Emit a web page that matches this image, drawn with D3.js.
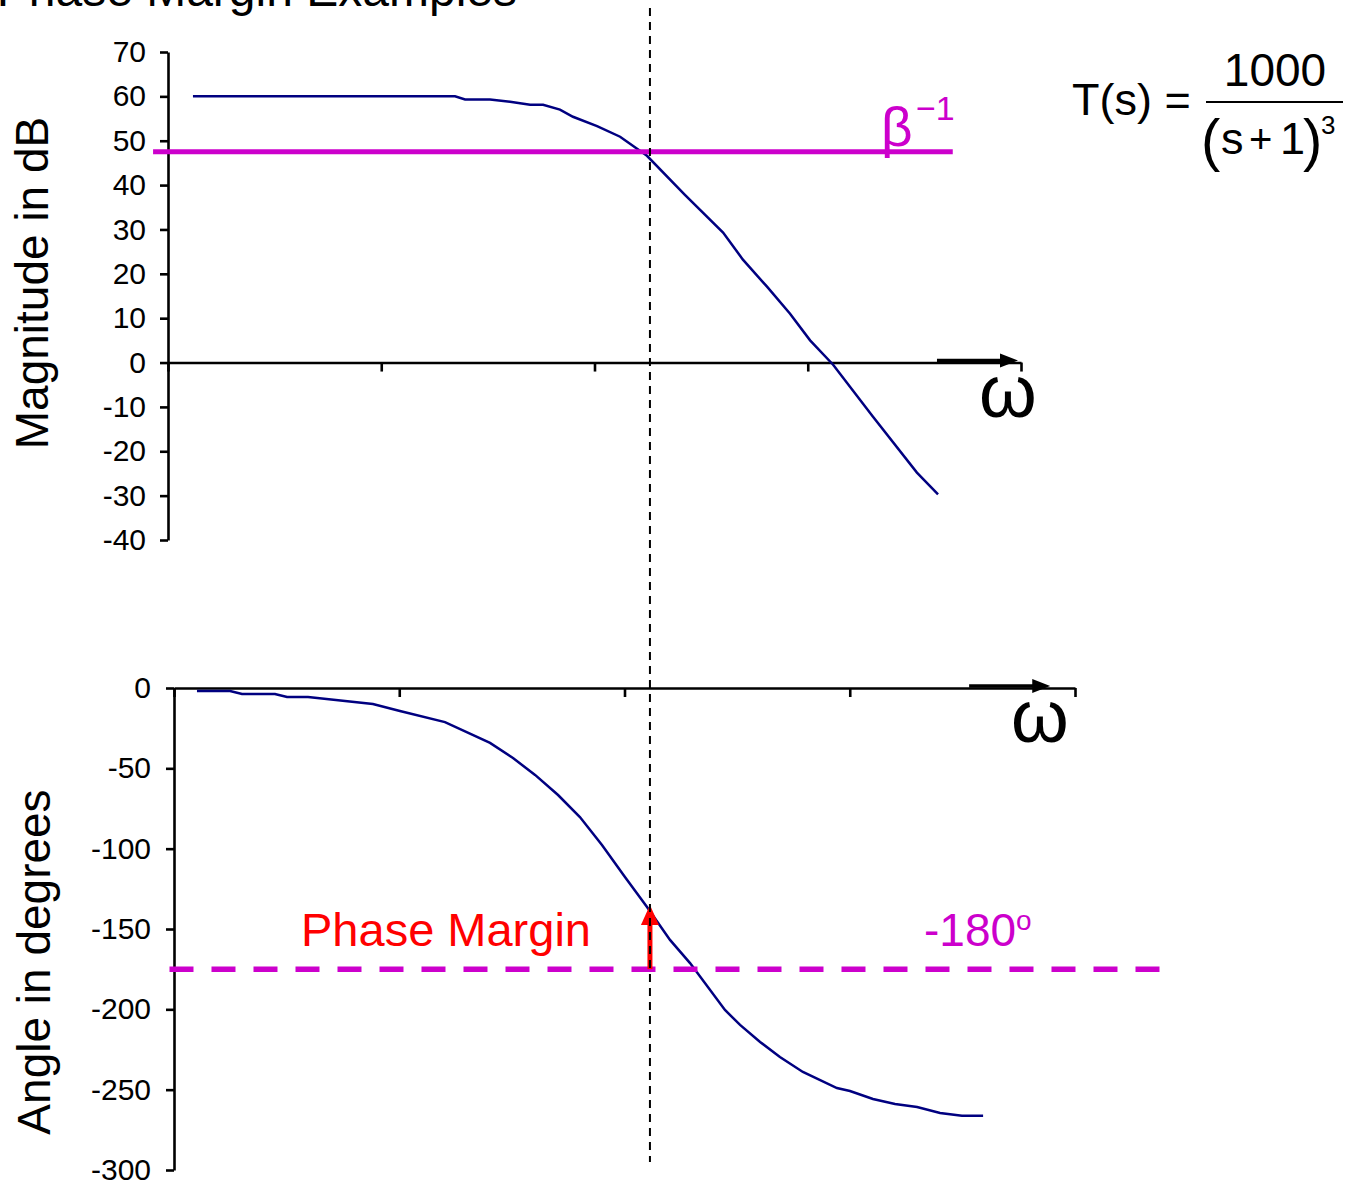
<!DOCTYPE html>
<html>
<head>
<meta charset="utf-8">
<script src="https://cdn.jsdelivr.net/npm/d3@7"></script>
<style>
  body { margin: 0; background: #fff; }
  svg { font-family: "Liberation Sans", Arial, sans-serif; }
</style>
</head>
<body>
<div id="chart"></div>
<script>
// x values are positions along the frequency axis, in tick units (0..4)
const xTicks = [0, 1, 2, 3, 4];

// magnitude plot
const magX  = [0.117, 1.346, 1.393, 1.510, 1.604, 1.698, 1.759, 1.838, 1.899, 2.012, 2.120, 2.246,
               2.424, 2.603, 2.696, 2.809, 2.917, 3.011, 3.119, 3.306, 3.512, 3.611];
const magDb = [60, 60, 59.3, 59.3, 58.8, 58.1, 58.1, 57.0, 55.4, 53.3, 50.9, 46.6,
               37.8, 29.3, 23.2, 17.1, 11.0, 5.0, -0.5, -12.2, -24.8, -29.7];
const magTicks = [70, 60, 50, 40, 30, 20, 10, 0, -10, -20, -30, -40];

// phase plot
const phX   = [0.102, 0.249, 0.302, 0.448, 0.502, 0.595, 0.883, 1.003, 1.203, 1.403, 1.505, 1.603,
               1.705, 1.802, 1.900, 2.002, 2.100, 2.202, 2.291, 2.446, 2.513, 2.602, 2.690, 2.792,
               2.943, 3.001, 3.103, 3.201, 3.299, 3.401, 3.498, 3.592];
const phDeg = [-1.9, -1.9, -3.7, -3.7, -5.6, -5.6, -10.0, -14.3, -21.2, -34.2, -43.6, -54.1,
               -66.6, -80.3, -97.7, -117.6, -136.3, -156.8, -171.2, -200.4, -209.7, -220.3, -229.7, -239.0,
               -249.0, -250.8, -255.8, -258.9, -260.8, -264.5, -266.3, -266.3];
const phTicks = [0, -50, -100, -150, -200, -250, -300];

// annotations
const betaInvDb = 47.5;     // β^-1 level
const refDeg = -175;        // drawn "-180°" reference
const pmTopDeg = -135;      // phase at crossover
const crossX = 2.26;        // gain crossover (top panel units)

const W = 1353, H = 1189;
const navy = "#000080", magenta = "#cc00cc", red = "#ff0000";

const svg = d3.select("#chart").append("svg")
    .attr("width", W)
    .attr("height", H);

// scales
const xM = d3.scaleLinear().domain([0, 4]).range([168, 1021]);
const yM = d3.scaleLinear().domain([-40, 70]).range([540, 52]);
const xP = d3.scaleLinear().domain([0, 4]).range([174, 1075]);
const yP = d3.scaleLinear().domain([-300, 0]).range([1170, 688]);

function styleAxis(g) {
    g.select(".domain").attr("stroke", "#000").attr("stroke-width", 2.6);
    g.selectAll(".tick line").attr("stroke", "#000").attr("stroke-width", 2.6);
    g.selectAll(".tick text").attr("fill", "#000").style("font-size", "30px")
        .style("font-family", "'Liberation Sans', Arial, sans-serif");
}

function arrow(x1, x2, y) {
    svg.append("line")
        .attr("x1", x1).attr("x2", x2 - 14)
        .attr("y1", y).attr("y2", y)
        .attr("stroke", "#000").attr("stroke-width", 3.5);
    svg.append("path")
        .attr("d", `M${x2},${y} L${x2 - 18},${y - 7} L${x2 - 18},${y + 7} Z`)
        .attr("fill", "#000");
}

const fmt = d => String(d);   // plain hyphen minus, as in the original

// ---- top panel: magnitude ----
svg.append("g")
    .attr("transform", `translate(0,${yM(0)})`)
    .call(d3.axisBottom(xM).tickValues(xTicks).tickFormat("").tickSize(9).tickSizeOuter(0))
    .call(styleAxis);

svg.append("g")
    .attr("transform", `translate(${xM(0)},0)`)
    .call(d3.axisLeft(yM).tickValues(magTicks).tickFormat(fmt).tickSize(8).tickSizeOuter(0).tickPadding(14))
    .call(styleAxis);

svg.append("path")
    .datum(magX.map((x, i) => [x, magDb[i]]))
    .attr("fill", "none")
    .attr("stroke", navy)
    .attr("stroke-width", 2.5)
    .attr("d", d3.line().x(d => xM(d[0])).y(d => yM(d[1])));

svg.append("line")
    .attr("x1", xM(-0.07)).attr("x2", xM(3.68))
    .attr("y1", yM(betaInvDb)).attr("y2", yM(betaInvDb))
    .attr("stroke", magenta).attr("stroke-width", 5);

arrow(xM(3.606), xM(3.986), yM(0) - 2);

svg.append("text")
    .attr("x", 979).attr("y", 417)
    .style("font-size", "74px")
    .text("ω");

svg.append("text")
    .attr("x", 881).attr("y", 146)
    .attr("fill", magenta)
    .style("font-size", "55px")
    .text("β");
svg.append("text")
    .attr("x", 916).attr("y", 120)
    .attr("fill", magenta)
    .style("font-size", "34px")
    .text("−1");

svg.append("text")
    .attr("transform", `translate(48,283) rotate(-90)`)
    .attr("text-anchor", "middle")
    .style("font-size", "46px")
    .text("Magnitude in dB");

// ---- bottom panel: phase ----
svg.append("g")
    .attr("transform", `translate(0,${yP(0)})`)
    .call(d3.axisBottom(xP).tickValues(xTicks).tickFormat("").tickSize(9).tickSizeOuter(0))
    .call(styleAxis);

svg.append("g")
    .attr("transform", `translate(${xP(0)},0)`)
    .call(d3.axisLeft(yP).tickValues(phTicks).tickFormat(fmt).tickSize(8).tickSizeOuter(0).tickPadding(15))
    .call(styleAxis);

svg.append("path")
    .datum(phX.map((x, i) => [x, phDeg[i]]))
    .attr("fill", "none")
    .attr("stroke", navy)
    .attr("stroke-width", 2.5)
    .attr("d", d3.line().x(d => xP(d[0])).y(d => yP(d[1])));

svg.append("line")
    .attr("x1", xP(-0.02)).attr("x2", xP(4.38))
    .attr("y1", yP(refDeg)).attr("y2", yP(refDeg))
    .attr("stroke", magenta).attr("stroke-width", 5.5)
    .attr("stroke-dasharray", "24 18");

arrow(xP(3.53), xP(3.89), yP(0) - 2);

svg.append("text")
    .attr("x", 1011).attr("y", 742)
    .style("font-size", "74px")
    .text("ω");

svg.append("text")
    .attr("transform", `translate(50,962) rotate(-90)`)
    .attr("text-anchor", "middle")
    .style("font-size", "46px")
    .text("Angle in degrees");

// phase margin arrow
const pmX = xM(crossX);
svg.append("line")
    .attr("x1", pmX).attr("x2", pmX)
    .attr("y1", yP(refDeg)).attr("y2", yP(pmTopDeg) + 16)
    .attr("stroke", red).attr("stroke-width", 5);
svg.append("path")
    .attr("d", `M${pmX},${yP(pmTopDeg)} L${pmX - 9},${yP(pmTopDeg) + 20} L${pmX + 9},${yP(pmTopDeg) + 20} Z`)
    .attr("fill", red);

svg.append("text")
    .attr("x", 301).attr("y", 946)
    .attr("fill", red)
    .style("font-size", "47px")
    .text("Phase Margin");

const t180 = svg.append("text")
    .attr("x", 924).attr("y", 946)
    .attr("fill", magenta)
    .style("font-size", "46px");
t180.append("tspan").text("-180");
t180.append("tspan").attr("dy", -16).style("font-size", "28px").text("o");

// crossover guide through both panels
svg.append("line")
    .attr("x1", pmX).attr("x2", pmX)
    .attr("y1", 8).attr("y2", 1162)
    .attr("stroke", "#000").attr("stroke-width", 2)
    .attr("stroke-dasharray", "8 6");

// ---- title and transfer function ----
svg.append("text")
    .attr("x", 517).attr("y", 6)
    .attr("text-anchor", "end")
    .style("font-size", "48px")
    .text("Phase Margin Examples");

svg.append("text")
    .attr("x", 1072).attr("y", 115)
    .style("font-size", "45px")
    .text("T(s) =");
svg.append("text")
    .attr("x", 1275).attr("y", 86)
    .attr("text-anchor", "middle")
    .style("font-size", "46px")
    .text("1000");
svg.append("line")
    .attr("x1", 1206).attr("x2", 1343)
    .attr("y1", 102).attr("y2", 102)
    .attr("stroke", "#000").attr("stroke-width", 2);
svg.append("text")
    .attr("x", 1201).attr("y", 160)
    .style("font-size", "58px")
    .text("(");
svg.append("text")
    .attr("x", 1221).attr("y", 154)
    .style("font-size", "45px")
    .text("s");
svg.append("text")
    .attr("x", 1249).attr("y", 153)
    .style("font-size", "40px")
    .text("+");
svg.append("text")
    .attr("x", 1280).attr("y", 154)
    .style("font-size", "45px")
    .text("1");
svg.append("text")
    .attr("x", 1303).attr("y", 160)
    .style("font-size", "58px")
    .text(")");
svg.append("text")
    .attr("x", 1321).attr("y", 134)
    .style("font-size", "26px")
    .text("3");
</script>
</body>
</html>
